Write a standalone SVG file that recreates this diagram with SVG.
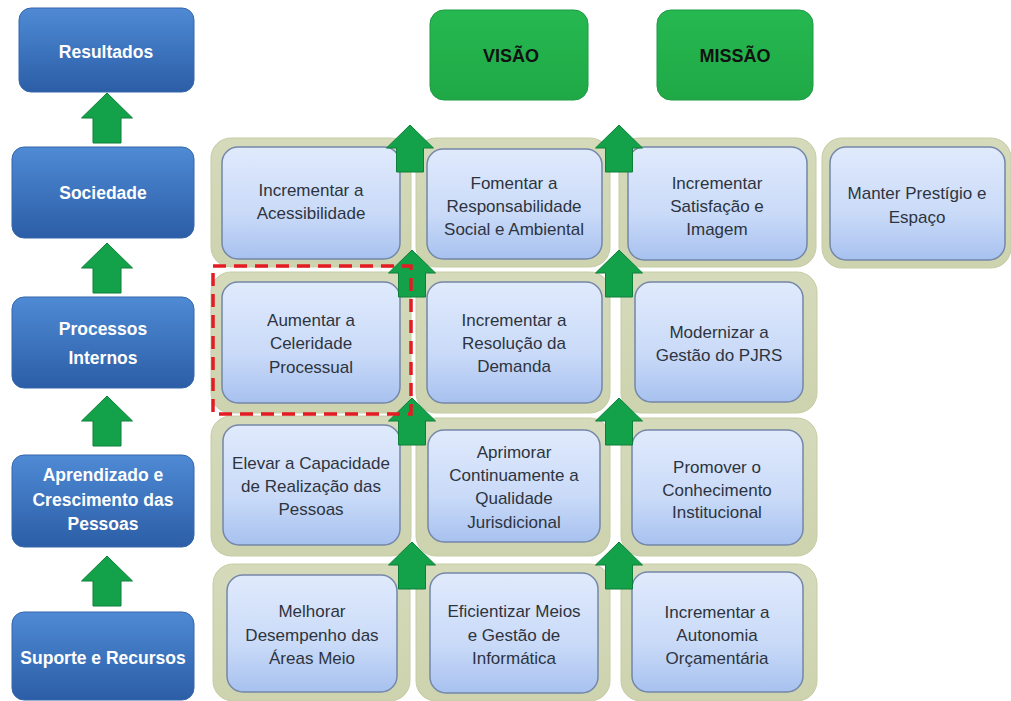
<svg xmlns="http://www.w3.org/2000/svg" width="1011" height="701" viewBox="0 0 1011 701">
<defs>
<linearGradient id="gBlue" x1="0" y1="0" x2="0" y2="1"><stop offset="0" stop-color="#4f8ad5"/><stop offset="1" stop-color="#2b5ea6"/></linearGradient>
<linearGradient id="gGreen" x1="0" y1="0" x2="0" y2="1"><stop offset="0" stop-color="#26b851"/><stop offset="1" stop-color="#1fa946"/></linearGradient>
<linearGradient id="gInner" x1="0" y1="0" x2="0" y2="1"><stop offset="0" stop-color="#e0eafc"/><stop offset="0.6" stop-color="#c9daf8"/><stop offset="1" stop-color="#a7c1ef"/></linearGradient>
<linearGradient id="gPanel" x1="0" y1="0" x2="0" y2="1"><stop offset="0" stop-color="#d5dabb"/><stop offset="1" stop-color="#cdd3ae"/></linearGradient>
<path id="arr" d="M0,0 L23.5,23 L13.5,23 L13.5,47 L-13.5,47 L-13.5,23 L-23.5,23 Z"/>
<path id="arrL" d="M0,0 L25.5,25 L14,25 L14,50 L-14,50 L-14,25 L-25.5,25 Z"/>
</defs>
<style>
.side{fill:url(#gBlue);stroke:#3466ab;stroke-width:1}
.side-t{font-family:"Liberation Sans",Arial,sans-serif;font-weight:bold;font-size:17.5px;fill:#ffffff;text-anchor:middle}
.top{fill:url(#gGreen);stroke:#1c9a42;stroke-width:1}
.top-t{font-family:"Liberation Sans",Arial,sans-serif;font-weight:bold;font-size:18px;fill:#111111;text-anchor:middle}
.panel{fill:url(#gPanel);stroke:#c6cca4;stroke-width:1}
.inner{fill:url(#gInner);stroke:#7487a8;stroke-width:1.5}
.t{font-family:"Liberation Sans",Arial,sans-serif;font-size:17px;fill:#2d3440;text-anchor:middle}
.ga{fill:#13a24a;stroke:#0e7f39;stroke-width:1}
.hl{fill:none;stroke:#e31b23;stroke-width:3.5;stroke-dasharray:13 8}
</style>
<rect width="1011" height="701" fill="#ffffff"/>

<!-- left perspective column -->
<g id="resultados"><rect class="side" x="19" y="8" width="175" height="84" rx="12"/><text class="side-t" x="106" y="58">Resultados</text></g>
<g id="sociedade"><rect class="side" x="12" y="147" width="182" height="91" rx="12"/><text class="side-t" x="103" y="199">Sociedade</text></g>
<g id="processos"><rect class="side" x="12" y="297" width="182" height="91" rx="12"/><text class="side-t" x="103" y="335">Processos</text><text class="side-t" x="103" y="364">Internos</text></g>
<g id="aprendizado"><rect class="side" x="12" y="455" width="182" height="92" rx="12"/><text class="side-t" x="103" y="481">Aprendizado e</text><text class="side-t" x="103" y="506">Crescimento das</text><text class="side-t" x="103" y="530">Pessoas</text></g>
<g id="suporte"><rect class="side" x="12" y="612" width="182" height="88" rx="12"/><text class="side-t" x="103" y="664">Suporte e Recursos</text></g>

<!-- top -->
<g id="visao"><rect class="top" x="430" y="10" width="158" height="90" rx="14"/><text class="top-t" x="511" y="62">VISÃO</text></g>
<g id="missao"><rect class="top" x="657" y="10" width="156" height="90" rx="14"/><text class="top-t" x="735" y="62">MISSÃO</text></g>

<!-- row 1 -->
<g id="acessibilidade"><rect class="panel" x="211" y="138" width="200" height="129" rx="20"/><rect class="inner" x="222" y="147" width="178" height="112" rx="16"/><text class="t" x="311" y="196">Incrementar a</text><text class="t" x="311" y="219">Acessibilidade</text></g>
<g id="responsabilidade"><rect class="panel" x="416" y="138" width="194" height="129" rx="20"/><rect class="inner" x="427" y="149" width="175" height="110" rx="16"/><text class="t" x="514" y="189">Fomentar a</text><text class="t" x="514" y="212">Responsabilidade</text><text class="t" x="514" y="235">Social e Ambiental</text></g>
<g id="satisfacao"><rect class="panel" x="619" y="138" width="197" height="129" rx="20"/><rect class="inner" x="628" y="147" width="179" height="113" rx="16"/><text class="t" x="717" y="189">Incrementar</text><text class="t" x="717" y="212">Satisfação e</text><text class="t" x="717" y="235">Imagem</text></g>
<g id="prestigio"><rect class="panel" x="822" y="138" width="189" height="130" rx="20"/><rect class="inner" x="830" y="147" width="175" height="113" rx="16"/><text class="t" x="917" y="199">Manter Prestígio e</text><text class="t" x="917" y="223">Espaço</text></g>

<!-- row 2 -->
<g id="celeridade"><rect class="panel" x="211" y="272" width="200" height="141" rx="20"/><rect class="inner" x="222" y="282" width="178" height="121" rx="16"/><text class="t" x="311" y="326">Aumentar a</text><text class="t" x="311" y="349">Celeridade</text><text class="t" x="311" y="373">Processual</text></g>
<g id="resolucao"><rect class="panel" x="416" y="272" width="194" height="141" rx="20"/><rect class="inner" x="427" y="282" width="175" height="121" rx="16"/><text class="t" x="514" y="326">Incrementar a</text><text class="t" x="514" y="349">Resolução da</text><text class="t" x="514" y="372">Demanda</text></g>
<g id="gestao"><rect class="panel" x="621" y="272" width="196" height="141" rx="20"/><rect class="inner" x="635" y="282" width="168" height="120" rx="16"/><text class="t" x="719" y="338">Modernizar a</text><text class="t" x="719" y="361">Gestão do PJRS</text></g>

<!-- row 3 -->
<g id="capacidade"><rect class="panel" x="211" y="416" width="200" height="140" rx="20"/><rect class="inner" x="223" y="425" width="177" height="120" rx="16"/><text class="t" x="311" y="469">Elevar a Capacidade</text><text class="t" x="311" y="492">de Realização das</text><text class="t" x="311" y="515">Pessoas</text></g>
<g id="qualidade"><rect class="panel" x="416" y="418" width="194" height="138" rx="20"/><rect class="inner" x="428" y="430" width="172" height="112" rx="16"/><text class="t" x="514" y="458">Aprimorar</text><text class="t" x="514" y="481">Continuamente a</text><text class="t" x="514" y="504">Qualidade</text><text class="t" x="514" y="528">Jurisdicional</text></g>
<g id="conhecimento"><rect class="panel" x="621" y="418" width="196" height="138" rx="20"/><rect class="inner" x="632" y="430" width="171" height="115" rx="16"/><text class="t" x="717" y="473">Promover o</text><text class="t" x="717" y="496">Conhecimento</text><text class="t" x="717" y="518">Institucional</text></g>

<!-- row 4 -->
<g id="desempenho"><rect class="panel" x="213" y="564" width="197" height="137" rx="20"/><rect class="inner" x="227" y="575" width="170" height="117" rx="16"/><text class="t" x="312" y="617">Melhorar</text><text class="t" x="312" y="641">Desempenho das</text><text class="t" x="312" y="664">Áreas Meio</text></g>
<g id="informatica"><rect class="panel" x="416" y="564" width="194" height="137" rx="20"/><rect class="inner" x="430" y="573" width="168" height="120" rx="16"/><text class="t" x="514" y="617">Eficientizar Meios</text><text class="t" x="514" y="641">e Gestão de</text><text class="t" x="514" y="664">Informática</text></g>
<g id="orcamento"><rect class="panel" x="621" y="564" width="196" height="137" rx="20"/><rect class="inner" x="632" y="572" width="171" height="120" rx="16"/><text class="t" x="717" y="618">Incrementar a</text><text class="t" x="717" y="641">Autonomia</text><text class="t" x="717" y="664">Orçamentária</text></g>

<!-- connectors -->
<g id="connectors">
<use href="#arrL" class="ga" x="107" y="93"/>
<use href="#arrL" class="ga" x="107" y="243"/>
<use href="#arrL" class="ga" x="107" y="396"/>
<use href="#arrL" class="ga" x="107" y="556"/>
<use href="#arr" class="ga" x="410" y="125"/>
<use href="#arr" class="ga" x="412" y="250"/>
<use href="#arr" class="ga" x="412" y="398"/>
<use href="#arr" class="ga" x="412" y="542"/>
<use href="#arr" class="ga" x="619" y="125"/>
<use href="#arr" class="ga" x="619" y="250"/>
<use href="#arr" class="ga" x="619" y="398"/>
<use href="#arr" class="ga" x="619" y="542"/>
</g>

<rect id="highlight" class="hl" x="213" y="266" width="198" height="148"/>
</svg>
